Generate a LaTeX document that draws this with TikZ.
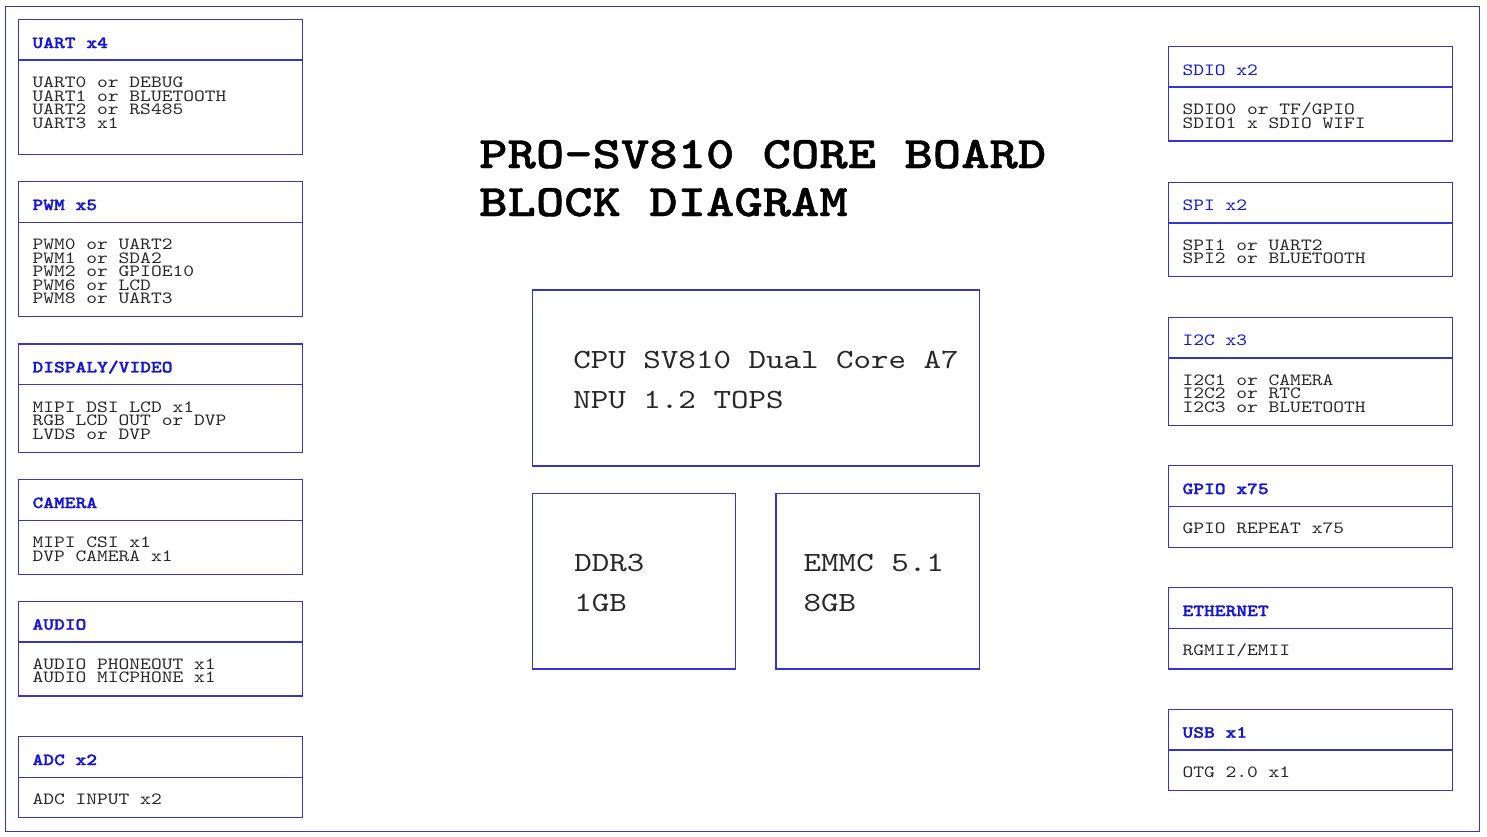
\documentclass[tikz,border=0pt]{standalone}
\usepackage{fontspec}
\usetikzlibrary{calc}
\newfontfamily\cour{lmmono10-regular.otf}[FakeStretch=1.2]
\newfontfamily\courhb{lmmonolt10-bold.otf}[FakeStretch=1.2, FakeBold=1.6]
\newfontfamily\courtb{lmmonolt10-bold.otf}[FakeStretch=1.2, FakeBold=1.0]
\definecolor{lineblue}{RGB}{52,52,208}
\definecolor{hblue}{RGB}{22,22,212}
\definecolor{bodytxt}{RGB}{40,40,40}
\newcommand\blines[2]{\vtop{\baselineskip=#1\lineskiplimit=-200pt\lineskip=0pt\halign{##\hfil\cr#2\crcr}}}
\tikzset{
  boxline/.style={draw=lineblue, line width=1.4pt},
  iobox/.style={boxline, rectangle, inner sep=0pt, outer sep=0pt, minimum width=284.4pt, anchor=north west},
  hdrb/.style={anchor=base west, inner sep=0pt, text=hblue, font=\courhb\fontsize{17.1}{13.4}\selectfont},
  hdrn/.style={anchor=base west, inner sep=0pt, text=hblue, font=\cour\fontsize{17.1}{13.4}\selectfont},
  bodyt/.style={anchor=base west, inner sep=0pt, text=bodytxt, font=\cour\fontsize{17.1}{13.4}\selectfont},
  bigt/.style={anchor=base west, inner sep=0pt, text=bodytxt, font=\cour\fontsize{27.8}{40}\selectfont},
  titlet/.style={anchor=base west, inner sep=0pt, text=black, font=\courtb\fontsize{45}{48}\selectfont},
  corebox/.style={boxline, rectangle, inner sep=0pt, outer sep=0pt, anchor=north west}
}
% #1 name, #2 x, #3 top, #4 bottom, #5 header style, #6 header, #7 body rows
\newcommand\iob[7]{%
  \node[iobox, minimum height={(#4-#3)*1pt}] (#1) at (#2,#3) {};
  \draw[boxline] ($(#1.north west)+(0,40.5)$) -- ($(#1.north east)+(0,40.5)$);
  \node[#5] (#1-h) at ($(#1.north west)+(14,28.4)$) {#6};
  \node[bodyt] (#1-b) at ($(#1.north west)+(14,68.2)$) {\blines{13.4pt}{#7}};
}
\begin{document}
\begin{tikzpicture}[x=1pt,y=-1pt]
\useasboundingbox (0,0) rectangle (1487,837);
\fill[white] (0,0) rectangle (1487,837);
\node[boxline, rectangle, inner sep=0pt, outer sep=0pt, minimum width=1474pt, minimum height=825pt, anchor=north west] (frame) at (5.3,6.3) {};

% left column
\iob{uart}{18.3}{19.7}{154.3}{hdrb}{UART x4}{UART0 or DEBUG\cr UART1 or BLUETOOTH\cr UART2 or RS485\cr UART3 x1}
\iob{pwm}{18.3}{181.7}{316.7}{hdrb}{PWM x5}{PWM0 or UART2\cr PWM1 or SDA2\cr PWM2 or GPIOE10\cr PWM6 or LCD\cr PWM8 or UART3}
\iob{disp}{18.3}{344}{452.3}{hdrb}{DISPALY/VIDEO}{MIPI DSI LCD x1\cr RGB LCD OUT or DVP\cr LVDS or DVP}
\iob{cam}{18.3}{479.7}{574.3}{hdrb}{CAMERA}{MIPI CSI x1\cr DVP CAMERA x1}
\iob{audio}{18.3}{601.3}{696}{hdrb}{AUDIO}{AUDIO PHONEOUT x1\cr AUDIO MICPHONE x1}
\iob{adc}{18.3}{736.7}{817.7}{hdrb}{ADC x2}{ADC INPUT x2}

% right column
\iob{sdio}{1168.3}{46.7}{141}{hdrn}{SDIO x2}{SDIO0 or TF/GPIO\cr SDIO1 x SDIO WIFI}
\iob{spi}{1168.3}{182.3}{276.7}{hdrn}{SPI x2}{SPI1 or UART2\cr SPI2 or BLUETOOTH}
\iob{iic}{1168.3}{317.3}{425.3}{hdrn}{I2C x3}{I2C1 or CAMERA\cr I2C2 or RTC\cr I2C3 or BLUETOOTH}
\iob{gpio}{1168.3}{465.7}{547.3}{hdrb}{GPIO x75}{GPIO REPEAT x75}
\iob{eth}{1168.3}{587.7}{669}{hdrb}{ETHERNET}{RGMII/EMII}
\iob{usb}{1168.3}{709.3}{790.3}{hdrb}{USB x1}{OTG 2.0 x1}

% title
\node[titlet] (title) at (479,168) {\blines{48pt}{PRO-SV810 CORE BOARD\cr BLOCK DIAGRAM}};

% core
\node[corebox, minimum width=446.6pt, minimum height=176pt] (cpu) at (532.7,290) {};
\node[bigt] (cpu-t) at ($(cpu.north west)+(40.5,78.3)$) {\blines{40pt}{CPU SV810 Dual Core A7\cr NPU 1.2 TOPS}};
\node[corebox, minimum width=203pt, minimum height=175.7pt] (ddr) at (532.7,493.3) {};
\node[bigt] (ddr-t) at ($(ddr.north west)+(41.5,78.4)$) {\blines{39.5pt}{DDR3\cr 1GB}};
\node[corebox, minimum width=203.3pt, minimum height=175.7pt] (emmc) at (776,493.3) {};
\node[bigt] (emmc-t) at ($(emmc.north west)+(27.5,78.4)$) {\blines{39.5pt}{EMMC 5.1\cr 8GB}};
\end{tikzpicture}
\end{document}
